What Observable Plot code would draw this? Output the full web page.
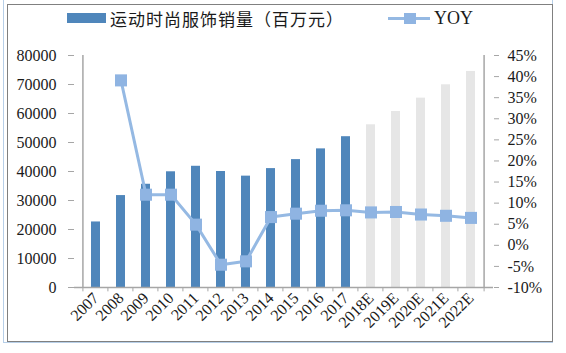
<!DOCTYPE html>
<html>
<head>
<meta charset="utf-8">
<script src="https://cdn.jsdelivr.net/npm/d3@7"></script>
<script src="https://cdn.jsdelivr.net/npm/@observablehq/plot@0.6"></script>
<style>
  html, body { margin: 0; padding: 0; background: #fff; }
  #wrap { position: relative; width: 566px; height: 353px; overflow: hidden; }
  .frame-blue { position: absolute; left: 3px; top: -4px; width: 550px; height: 347px; border: 1px solid #b7cfe8; box-sizing: border-box; }
  .frame-gray { position: absolute; left: 7px; top: 4px; width: 546px; height: 338px; border: 1.5px solid #808080; box-sizing: border-box; }
  #legend { position: absolute; left: 0; top: 0; width: 566px; height: 40px; }
  .lg { position: absolute; top: 8px; height: 22px; line-height: 22px; color: #1a1a1a; }
  #chart { position: absolute; left: 0; top: 40px; }
</style>
</head>
<body>
<div id="wrap">
  <div class="frame-blue"></div>
  <div class="frame-gray"></div>
  <div id="legend">
    <div style="position:absolute;left:67px;top:13px;width:39px;height:10px;background:#4f86bb;"></div>
    <div class="lg" style="left:110px;font-family:'Noto Sans CJK SC',sans-serif;font-size:17px;letter-spacing:1px;">运动时尚服饰销量（百万元）</div>
    <div style="position:absolute;left:388px;top:17px;width:42px;height:3px;background:#95b9e3;"></div>
    <div style="position:absolute;left:404px;top:13px;width:12px;height:11px;background:#8fb4e2;"></div>
    <div class="lg" style="left:434px;top:7px;font-family:'Liberation Serif',serif;font-size:18px;">YOY</div>
  </div>
  <div id="chart"></div>
</div>
<script>
// ---- data ----
const categories = ["2007","2008","2009","2010","2011","2012","2013","2014","2015","2016","2017","2018E","2019E","2020E","2021E","2022E"];
const sales = [22600, 31700, 35600, 39900, 41800, 40000, 38400, 41000, 44100, 47800, 52000, 56100, 60700, 65300, 69900, 74500];
const yoyYears = ["2008","2009","2010","2011","2012","2013","2014","2015","2016","2017","2018E","2019E","2020E","2021E","2022E"];
const yoy = [39.1, 12.0, 12.0, 4.9, -4.6, -3.8, 6.7, 7.5, 8.2, 8.3, 7.8, 7.9, 7.3, 7.0, 6.5];
const leftTicks = [0, 10000, 20000, 30000, 40000, 50000, 60000, 70000, 80000];
const rightTicks = [-10, -5, 0, 5, 10, 15, 20, 25, 30, 35, 40, 45];

// ---- chart ----
const W = 566, H = 305;
const mL = 74, mR = 73, mT = 15, mB = 58;
const yMax = 80000, pMin = -10, pMax = 45;
const toY = p => (p - pMin) / (pMax - pMin) * yMax;

const barData = categories.map((c, i) => ({cat: c, v: sales[i], est: c.endsWith("E")}));
const lineData = yoyYears.map((c, i) => ({cat: c, p: yoy[i]}));
const step = (W - mL - mR) / categories.length;
const axisGray = "#a6a6a6";
const font = "'Liberation Serif', 'Times New Roman', serif";
const last = categories[categories.length - 1];

const chart = Plot.plot({
  width: W, height: H,
  marginLeft: mL, marginRight: mR, marginTop: mT, marginBottom: mB,
  style: {fontFamily: font, fontSize: "16px", color: "#1a1a1a", background: "transparent"},
  x: {domain: categories, padding: 0.63, label: null},
  y: {domain: [0, yMax], label: null},
  marks: [
    Plot.barY(barData, {x: "cat", y: "v", fill: d => d.est ? "#e6e6e6" : "#4f86bb"}),
    Plot.ruleY([0], {stroke: axisGray, strokeWidth: 1.5}),
    Plot.ruleX([categories[0]], {dx: -step / 2, y1: 0, y2: yMax, stroke: axisGray, strokeWidth: 1.5}),
    Plot.ruleX([last], {dx: step / 2, y1: 0, y2: yMax, stroke: axisGray, strokeWidth: 1.5}),
    Plot.ruleX(categories, {dx: -step / 2, y1: 0, y2: -1500, stroke: axisGray}),
    Plot.ruleX([last], {dx: step / 2, y1: 0, y2: -1500, stroke: axisGray}),
    Plot.axisY({anchor: "left", ticks: leftTicks, tickSize: 6, tickPadding: 12, stroke: axisGray, fontSize: 16, tickFormat: d => String(d)}),
    Plot.axisY({anchor: "right", ticks: rightTicks.map(toY), tickSize: 5, tickPadding: 9, stroke: axisGray, fontSize: 16,
      tickFormat: d => Math.round(d / yMax * (pMax - pMin) + pMin) + "%"}),
    Plot.axisX({tickRotate: -45, tickSize: 0, tickPadding: 8, fontSize: 16}),
    Plot.line(lineData, {x: "cat", y: d => toY(d.p), stroke: "#95b9e3", strokeWidth: 3}),
    Plot.dot(lineData, {x: "cat", y: d => toY(d.p), symbol: "square", r: 6.8, fill: "#8fb4e2", stroke: "none"})
  ]
});
document.getElementById("chart").appendChild(chart);
</script>
</body>
</html>
